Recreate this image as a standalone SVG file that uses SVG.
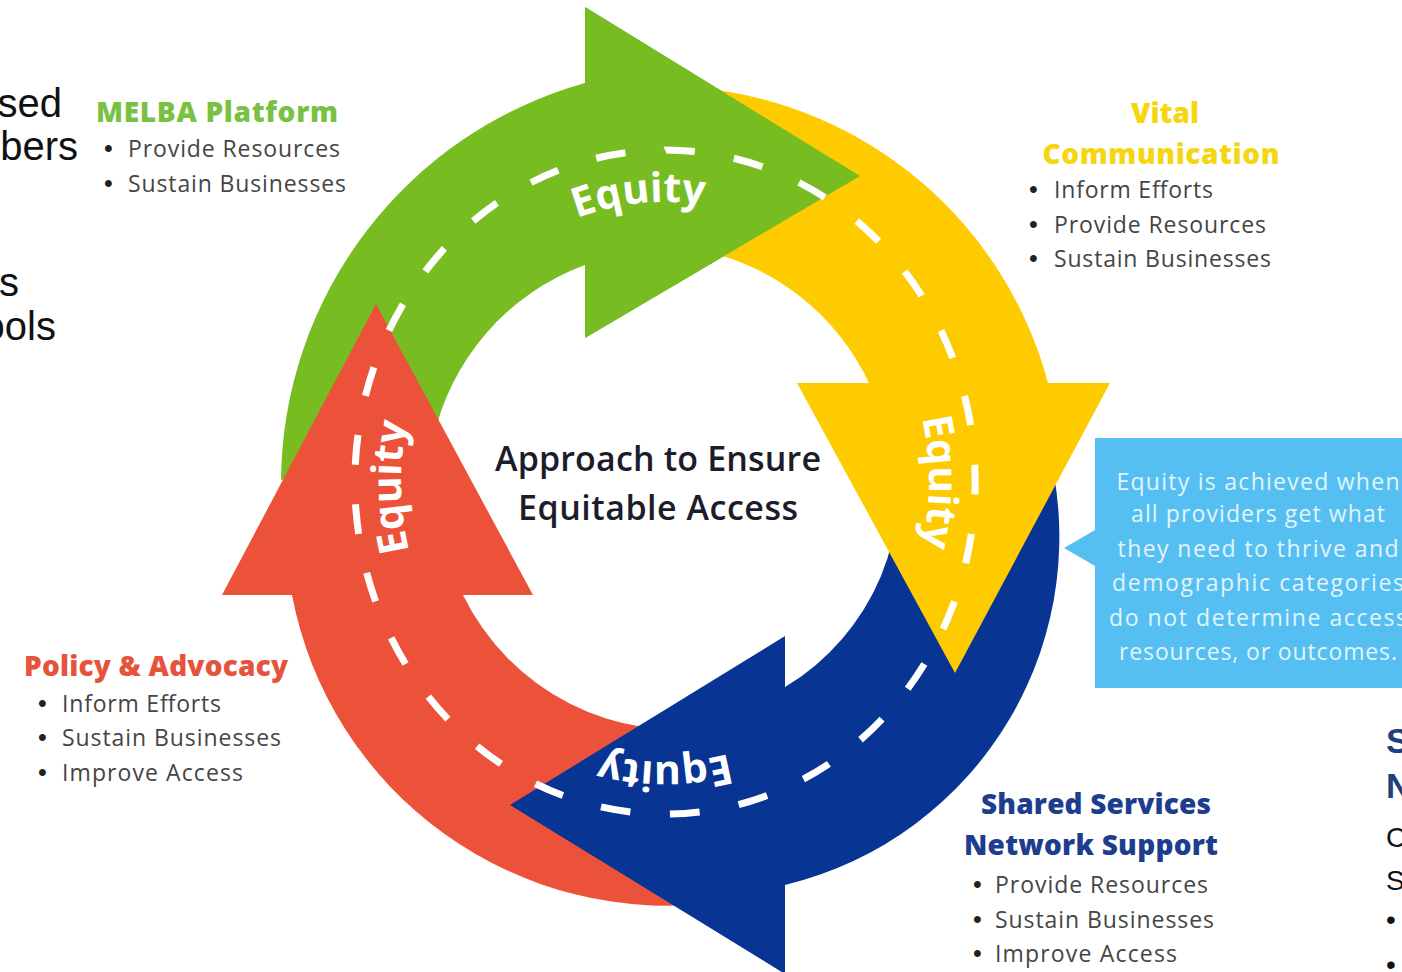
<svg xmlns="http://www.w3.org/2000/svg" width="1402" height="972" viewBox="0 0 1402 972">
<style>
.hd{font-family:"Open Sans","Liberation Sans",sans-serif;font-weight:800;font-size:28px}
.li{font-family:"Open Sans","Liberation Sans",sans-serif;font-size:23px;fill:#454545}
.bu{font-family:"Liberation Sans",Arial,sans-serif;font-size:25px;fill:#222222}
.eq{font-family:"Open Sans","Liberation Sans",sans-serif;font-weight:700;font-size:41px;fill:#ffffff}
.ctr{font-family:"Open Sans","Liberation Sans",sans-serif;font-weight:600;font-size:34px;fill:#1c1c2a}
.co{font-family:"Open Sans","Liberation Sans",sans-serif;font-size:23px;fill:#e2f4fd}
.cut{font-family:"Liberation Sans",Arial,sans-serif;font-size:40px;fill:#111111}
.cutr{font-family:"Liberation Sans",Arial,sans-serif;font-size:28px;fill:#111111}
.cutb{font-family:"Liberation Sans",Arial,sans-serif;font-size:35px;font-weight:700;fill:#213f78}
.dash{fill:none;stroke:#ffffff;stroke-width:7;stroke-dasharray:30 40}
</style>
<defs>
<path id="ringA" d="M665,762 A264,280 0 1 1 665,202 A264,280 0 1 1 665,762"/>
<path id="ringB" d="M665,202 A264,280 0 1 1 665,762 A264,280 0 1 1 665,202"/>
</defs>
<rect width="1402" height="972" fill="#ffffff"/>

<g id="left-cut-text">
<text class="cut" x="62" y="117" text-anchor="end">sed</text>
<text class="cut" x="78" y="160" text-anchor="end">bers</text>
<text class="cut" x="19" y="296" text-anchor="end">s</text>
<text class="cut" x="56" y="340" text-anchor="end">ools</text>
</g>

<g id="connectors">
<path id="arrow-green" fill="#77bd22" d="M281,480 A416,416 0 0 1 585,83 L585,7 L860,176 L585,338 L585,265 A240,240 0 0 0 433,440 Z"/>
<path id="arrow-red" fill="#ec523a" d="M720,902 A382,382 0 0 1 292,595 L222,595 L376,304 L533,595 L463,595 A240,240 0 0 0 720,726 Z"/>
<path id="arrow-blue" fill="#083494" d="M1046,440 A358,358 0 0 1 785,885 L785,974 L510,805 L785,636 L785,687 A234,234 0 0 0 892,430 Z"/>
<path id="arrow-yellow" fill="#fecb00" d="M700,88 A400,400 0 0 1 1048,383 L1110,383 L955,673 L797,383 L869,383 A240,240 0 0 0 700,250 Z"/>
<path id="arrow-green-head" fill="#77bd22" d="M585,7 L860,176 L585,338 Z"/>
<path id="road-dashes" class="dash" pathLength="2030" d="M665,150 A310,332 0 1 1 665,814 A310,332 0 1 1 665,150"/>
<text class="eq" text-anchor="middle"><textPath href="#ringA" startOffset="24.7%">Equity</textPath></text>
<text class="eq" text-anchor="middle"><textPath href="#ringA" startOffset="48.5%">Equity</textPath></text>
<text class="eq" text-anchor="middle"><textPath href="#ringA" startOffset="75%">Equity</textPath></text>
<text class="eq" text-anchor="middle"><textPath href="#ringB" startOffset="50%">Equity</textPath></text>
</g>

<g id="center-title">
<text class="ctr" x="658" y="471" text-anchor="middle" textLength="326">Approach to Ensure</text>
<text class="ctr" x="658" y="520" text-anchor="middle" textLength="280">Equitable Access</text>
</g>

<g id="melba-platform">
<text class="hd" x="96" y="122" fill="#79c143" textLength="242">MELBA Platform</text>
<text class="bu" x="104" y="157">•</text>
<text class="li" x="128" y="157" textLength="212">Provide Resources</text>
<text class="bu" x="104" y="192">•</text>
<text class="li" x="128" y="192" textLength="218">Sustain Businesses</text>
</g>

<g id="vital-communication">
<text class="hd" x="1165" y="123" fill="#f5d60f" text-anchor="middle" textLength="68">Vital</text>
<text class="hd" x="1161" y="164" fill="#f5d60f" text-anchor="middle" textLength="237">Communication</text>
<text class="bu" x="1029" y="198">•</text>
<text class="li" x="1054" y="198" textLength="159">Inform Efforts</text>
<text class="bu" x="1029" y="233">•</text>
<text class="li" x="1054" y="233" textLength="212">Provide Resources</text>
<text class="bu" x="1029" y="267">•</text>
<text class="li" x="1054" y="267" textLength="217">Sustain Businesses</text>
</g>

<g id="policy-advocacy">
<text class="hd" x="24" y="676" fill="#e6533d" textLength="264">Policy &amp; Advocacy</text>
<text class="bu" x="38" y="712">•</text>
<text class="li" x="62" y="712" textLength="159">Inform Efforts</text>
<text class="bu" x="38" y="746">•</text>
<text class="li" x="62" y="746" textLength="219">Sustain Businesses</text>
<text class="bu" x="38" y="781">•</text>
<text class="li" x="62" y="781" textLength="181">Improve Access</text>
</g>

<g id="shared-services">
<text class="hd" x="981" y="814" fill="#1d3d8f" textLength="230">Shared Services</text>
<text class="hd" x="964" y="855" fill="#1d3d8f" textLength="254">Network Support</text>
<text class="bu" x="973" y="893">•</text>
<text class="li" x="995" y="893" textLength="213">Provide Resources</text>
<text class="bu" x="973" y="928">•</text>
<text class="li" x="995" y="928" textLength="219">Sustain Businesses</text>
<text class="bu" x="973" y="962">•</text>
<text class="li" x="995" y="962" textLength="182">Improve Access</text>
</g>

<g id="equity-callout">
<path fill="#56bff2" d="M1095,438 H1410 V688 H1095 V566 L1064,548 L1095,530 Z"/>
<text class="co" x="1258" y="490" text-anchor="middle" textLength="283">Equity is achieved when</text>
<text class="co" x="1258" y="522" text-anchor="middle" textLength="254">all providers get what</text>
<text class="co" x="1258" y="557" text-anchor="middle" textLength="281">they need to thrive and</text>
<text class="co" x="1258" y="591" text-anchor="middle" textLength="292">demographic categories</text>
<text class="co" x="1258" y="626" text-anchor="middle" textLength="298">do not determine access</text>
<text class="co" x="1258" y="660" text-anchor="middle" textLength="278">resources, or outcomes.</text>
</g>

<g id="right-cut-text">
<text class="cutb" x="1386" y="753">S</text>
<text class="cutb" x="1386" y="798">N</text>
<text class="cutr" x="1386" y="847">C</text>
<text class="cutr" x="1386" y="890">S</text>
<text class="cutr" x="1386" y="929">•</text>
<text class="cutr" x="1386" y="974">•</text>
</g>
</svg>
